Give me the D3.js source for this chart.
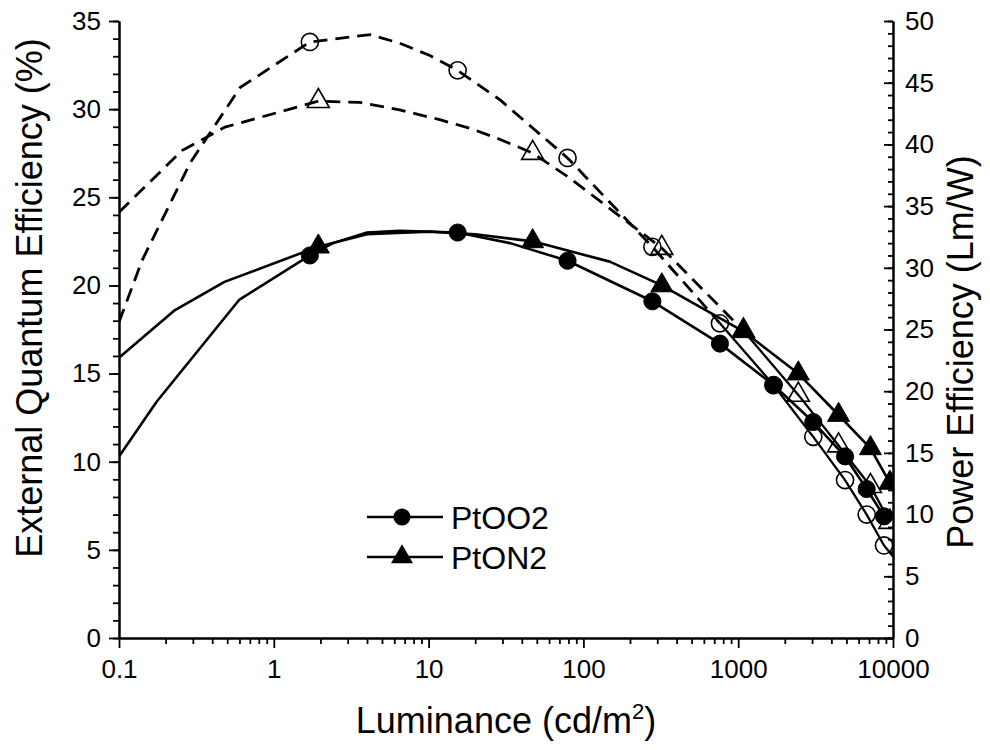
<!DOCTYPE html>
<html>
<head>
<meta charset="utf-8">
<script src="https://cdn.jsdelivr.net/npm/d3@7"></script>
<style>
  body { margin: 0; background: #fff; }
  svg { display: block; }
  text { font-family: "Liberation Sans", Arial, sans-serif; fill: #000; }
</style>
</head>
<body>
<svg id="chart" width="990" height="750"></svg>
<script>
// ---- axis ticks ----
const xTicks = [0.1, 1, 10, 100, 1000, 10000];
const xTickLabels = ["0.1", "1", "10", "100", "1000", "10000"];
const eqeTicks = [0, 5, 10, 15, 20, 25, 30, 35];
const peTicks = [0, 5, 10, 15, 20, 25, 30, 35, 40, 45, 50];

// ---- measured points (marked) ----
const lumOO2 = [1.71, 15.4, 79, 279, 762, 1690, 3055, 4900, 6760, 8750];
const eqeOO2 = [21.7, 23.0, 21.4, 19.1, 16.7, 14.35, 12.25, 10.3, 8.45, 6.9];
const peOO2  = [48.3, 46.0, 38.9, 31.7, 25.5, 20.5, 16.3, 12.8, 10.0, 7.5];

const lumON2 = [1.94, 47, 321, 1080, 2445, 4450, 7150, 9550];
const eqeON2 = [22.2, 22.5, 20.0, 17.4, 15.0, 12.65, 10.76, 8.8];
const peON2  = [43.5, 39.3, 31.6, 24.9, 19.7, 15.6, 12.3, 9.4];

// ---- further points on each curve (no symbol) ----
const eqeOO2Extra = [[0.1, 10.3], [0.175, 13.4], [0.6, 19.2], [2.41, 22.4], [4.0, 23.0], [6.5, 23.1], [33.6, 22.4]];
const eqeON2Extra = [[0.1, 15.9], [0.23, 18.6], [0.48, 20.2], [4.0, 22.9], [10, 23.05], [20, 22.9], [148, 21.35]];
const peOO2Extra  = [[0.1, 25.6], [0.141, 30.6], [0.288, 38.5], [0.605, 44.6], [4.2, 48.9], [6.5, 48.2], [10.2, 47.2], [29, 43.6], [10000, 6.6]];
const peON2Extra  = [[0.1, 34.5], [0.255, 39.5], [0.484, 41.4], [3.6, 43.4], [6.5, 42.8], [11.8, 42.0], [18.6, 41.3], [29, 40.4], [79, 37.4]];

const legendNames = ["PtOO2", "PtON2"];

// ---- layout ----
const svg = d3.select("#chart");
const L = 119, R = 893, T = 21, B = 638;

const x = d3.scaleLog().domain([0.1, 10000]).range([L, R]);
const yL = d3.scaleLinear().domain([0, 35]).range([B, T]);
const yR = d3.scaleLinear().domain([0, 50]).range([B, T]);

const zip = (xs, ys) => xs.map((v, i) => [v, ys[i]]);
const curve = (xs, ys, extra) => zip(xs, ys).concat(extra).sort((a, b) => a[0] - b[0]);

const series = [
  { marks: zip(lumOO2, eqeOO2), line: curve(lumOO2, eqeOO2, eqeOO2Extra), y: yL, symbol: d3.symbolCircle, filled: true },
  { marks: zip(lumON2, eqeON2), line: curve(lumON2, eqeON2, eqeON2Extra), y: yL, symbol: d3.symbolTriangle, filled: true },
  { marks: zip(lumOO2, peOO2), line: curve(lumOO2, peOO2, peOO2Extra), y: yR, symbol: d3.symbolCircle, filled: false, dashedTo: 762 },
  { marks: zip(lumON2, peON2), line: curve(lumON2, peON2, peON2Extra), y: yR, symbol: d3.symbolTriangle, filled: false, dashedTo: 1080 }
];

const symSize = { circle: 230, triangle: 210 };

// clip to the plotting frame
svg.append("defs").append("clipPath").attr("id", "plotClip")
  .append("rect").attr("x", L).attr("y", T - 12).attr("width", R - L).attr("height", B - T + 12);

const plot = svg.append("g").attr("clip-path", "url(#plotClip)");

series.forEach(s => {
  const gen = d3.line().x(d => x(d[0])).y(d => s.y(d[1]));
  if (s.dashedTo) {
    const dashed = s.line.filter(d => d[0] <= s.dashedTo);
    const solid = s.line.filter(d => d[0] >= s.dashedTo);
    plot.append("path").attr("d", gen(dashed)).attr("fill", "none").attr("stroke", "#000")
      .attr("stroke-width", 2.8).attr("stroke-dasharray", "14,8");
    plot.append("path").attr("d", gen(solid)).attr("fill", "none").attr("stroke", "#000")
      .attr("stroke-width", 2.3);
  } else {
    plot.append("path").attr("d", gen(s.line)).attr("fill", "none").attr("stroke", "#000")
      .attr("stroke-width", 2.6).attr("stroke-linejoin", "round");
  }
});

series.forEach(s => {
  const size = s.symbol === d3.symbolCircle ? symSize.circle : symSize.triangle;
  plot.selectAll(null).data(s.marks).enter().append("path")
    .attr("transform", d => `translate(${x(d[0])},${s.y(d[1])})`)
    .attr("d", d3.symbol().type(s.symbol).size(size)())
    .attr("fill", s.filled ? "#000" : "none")
    .attr("stroke", "#000")
    .attr("stroke-width", s.filled ? 1 : 1.6);
});

// ---- axes ----
const axisStyle = g => {
  g.selectAll(".domain").attr("stroke", "#000").attr("stroke-width", 2);
  g.selectAll(".tick line").attr("stroke", "#000").attr("stroke-width", 1.8);
  g.selectAll(".tick text").style("font-size", "26px").attr("font-family", null);
};

const xMinor = [];
for (let e = -1; e < 4; e++) for (let m = 2; m <= 9; m++) xMinor.push(m * Math.pow(10, e));

svg.append("g").attr("transform", `translate(0,${B})`)
  .call(d3.axisBottom(x).tickValues(xMinor).tickSize(6).tickFormat("").tickSizeOuter(0))
  .call(axisStyle);
svg.append("g").attr("transform", `translate(0,${B})`)
  .call(d3.axisBottom(x).tickValues(xTicks).tickFormat((d, i) => xTickLabels[i]).tickSize(10).tickPadding(12).tickSizeOuter(0))
  .call(axisStyle);

svg.append("g").attr("transform", `translate(${L},0)`)
  .call(d3.axisLeft(yL).tickValues(d3.range(0, 36, 1)).tickSize(6).tickFormat("").tickSizeOuter(0))
  .call(axisStyle);
svg.append("g").attr("transform", `translate(${L},0)`)
  .call(d3.axisLeft(yL).tickValues(eqeTicks).tickSize(10).tickPadding(8).tickSizeOuter(0))
  .call(axisStyle);

svg.append("g").attr("transform", `translate(${R},0)`)
  .call(d3.axisRight(yR).tickValues(d3.range(0, 51, 1)).tickSize(-5).tickFormat("").tickSizeOuter(0))
  .call(axisStyle);
svg.append("g").attr("transform", `translate(${R},0)`)
  .call(d3.axisRight(yR).tickValues(peTicks).tickSize(-9).tickPadding(12).tickSizeOuter(0))
  .call(axisStyle);

// ---- axis titles ----
svg.append("text")
  .attr("transform", `translate(42,298) rotate(-90)`)
  .attr("text-anchor", "middle").style("font-size", "36px")
  .text("External Quantum Efficiency (%)");

svg.append("text")
  .attr("transform", `translate(973,352) rotate(-90)`)
  .attr("text-anchor", "middle").style("font-size", "36px")
  .text("Power Efficiency (Lm/W)");

const xt = svg.append("text").attr("x", 506).attr("y", 733)
  .attr("text-anchor", "middle").style("font-size", "36px");
xt.append("tspan").text("Luminance (cd/m");
xt.append("tspan").attr("dy", -14).style("font-size", "22px").text("2");
xt.append("tspan").attr("dy", 14).text(")");

// ---- legend ----
const legend = svg.append("g");
[d3.symbolCircle, d3.symbolTriangle].forEach((sym, i) => {
  const yy = 517 + i * 40;
  legend.append("line").attr("x1", 367).attr("x2", 443).attr("y1", yy).attr("y2", yy)
    .attr("stroke", "#000").attr("stroke-width", 2.5);
  legend.append("path").attr("transform", `translate(402,${yy})`)
    .attr("d", d3.symbol().type(sym).size(sym === d3.symbolCircle ? symSize.circle : symSize.triangle)())
    .attr("fill", "#000");
  legend.append("text").attr("x", 451).attr("y", yy + 12).style("font-size", "32px").text(legendNames[i]);
});
</script>
</body>
</html>
